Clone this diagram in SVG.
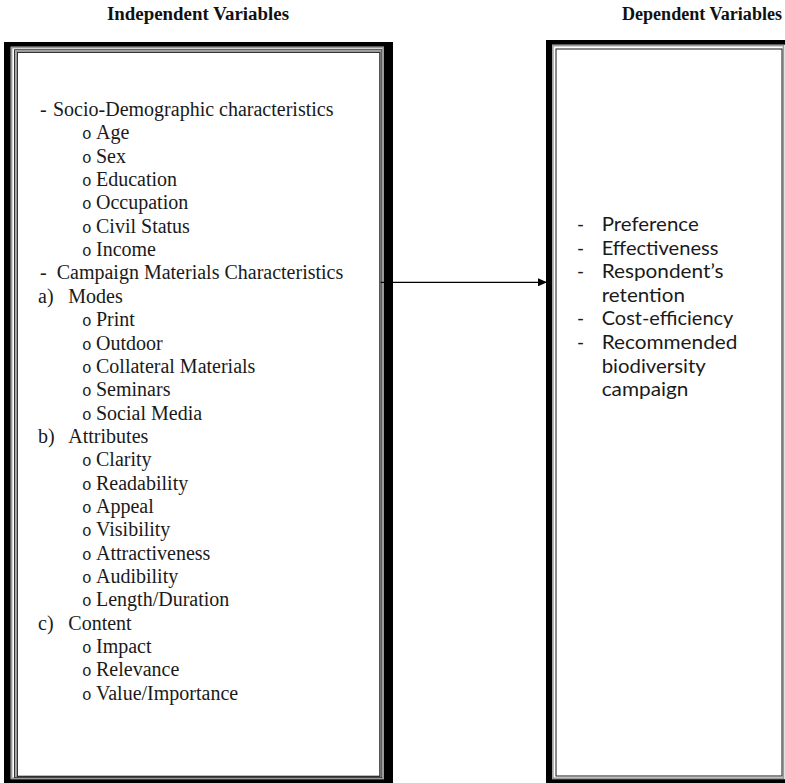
<svg xmlns="http://www.w3.org/2000/svg" width="785" height="783" viewBox="0 0 785 783">
<defs>
<style>
.hdr{font-family:"Liberation Serif","Times New Roman",serif;font-weight:bold;font-size:18px;fill:#111}
.ser{font-family:"Liberation Serif","Times New Roman",serif;font-size:20px;fill:#1a1a1a}
.bul{font-family:"Liberation Mono","Courier New",monospace;font-size:16px;fill:#1a1a1a}
.san{font-family:Lato,"Open Sans","Liberation Sans",sans-serif;font-size:19px;fill:#1a1a1a}
.gray{fill:none;stroke:#9a9a9a;stroke-width:1.6}
.dark{fill:none;stroke:#2a2a2a;stroke-width:1.1}
.conn{stroke:#000;stroke-width:1.3;fill:none}
</style>
<marker id="arrow" viewBox="0 0 9 8" refX="8.5" refY="4" markerWidth="9" markerHeight="8" markerUnits="userSpaceOnUse" orient="auto">
<path d="M0,0 L9,4 L0,8 z" fill="#000"/>
</marker>
</defs>
<rect width="785" height="783" fill="#fff"/>
<g id="headers">
<text class="hdr" x="107" y="20" textLength="182" lengthAdjust="spacingAndGlyphs">Independent Variables</text>
<text class="hdr" x="622" y="20" textLength="160" lengthAdjust="spacingAndGlyphs">Dependent Variables</text>
</g>
<g id="independent">
<rect x="4" y="42" width="389" height="741" fill="#000"/>
<rect x="10.7" y="46.7" width="373.3" height="732.5" fill="#fff"/>
<rect class="gray" x="11.6" y="47.6" width="371.6" height="730.7"/>
<rect class="dark" x="14.6" y="49.8" width="367.1" height="727.6"/>
<rect class="gray" x="16" y="51" width="364.5" height="725.4"/>
<rect class="dark" x="17.4" y="52.4" width="362.4" height="724"/>
<g class="ser">
<text x="40" y="116">-</text><text x="53" y="116">Socio-Demographic characteristics</text>
<text x="96" y="139.35">Age</text>
<text x="96" y="162.7">Sex</text>
<text x="96" y="186.05">Education</text>
<text x="96" y="209.4">Occupation</text>
<text x="96" y="232.75">Civil Status</text>
<text x="96" y="256.1">Income</text>
<text x="40" y="279.45">-</text><text x="56.7" y="279.45">Campaign Materials Characteristics</text>
<text x="38" y="302.8">a)</text><text x="68.3" y="302.8">Modes</text>
<text x="96" y="326.15">Print</text>
<text x="96" y="349.5">Outdoor</text>
<text x="96" y="372.85">Collateral Materials</text>
<text x="96" y="396.2">Seminars</text>
<text x="96" y="419.55">Social Media</text>
<text x="38" y="442.9">b)</text><text x="68.3" y="442.9">Attributes</text>
<text x="96" y="466.25">Clarity</text>
<text x="96" y="489.6">Readability</text>
<text x="96" y="512.95">Appeal</text>
<text x="96" y="536.3">Visibility</text>
<text x="96" y="559.65">Attractiveness</text>
<text x="96" y="583">Audibility</text>
<text x="96" y="606.35">Length/Duration</text>
<text x="38" y="629.7">c)</text><text x="68.3" y="629.7">Content</text>
<text x="96" y="653.05">Impact</text>
<text x="96" y="676.4">Relevance</text>
<text x="96" y="699.75">Value/Importance</text>
</g>
<g class="bul">
<text x="82" y="139.35">o</text><text x="82" y="162.7">o</text><text x="82" y="186.05">o</text><text x="82" y="209.4">o</text><text x="82" y="232.75">o</text><text x="82" y="256.1">o</text>
<text x="82" y="326.15">o</text><text x="82" y="349.5">o</text><text x="82" y="372.85">o</text><text x="82" y="396.2">o</text><text x="82" y="419.55">o</text>
<text x="82" y="466.25">o</text><text x="82" y="489.6">o</text><text x="82" y="512.95">o</text><text x="82" y="536.3">o</text><text x="82" y="559.65">o</text><text x="82" y="583">o</text><text x="82" y="606.35">o</text>
<text x="82" y="653.05">o</text><text x="82" y="676.4">o</text><text x="82" y="699.75">o</text>
</g>
</g>
<g id="dependent">
<rect x="546" y="40" width="250" height="743" fill="#000"/>
<rect x="552" y="44.7" width="240" height="734.5" fill="#fff"/>
<rect class="gray" x="552.9" y="45.6" width="230.6" height="732.6"/>
<rect class="dark" x="556" y="49" width="226" height="727"/>
<g class="san">
<text x="577" y="231">-</text><text x="601.7" y="231" textLength="97" lengthAdjust="spacingAndGlyphs">Preference</text>
<text x="577" y="254.6">-</text><text x="601.7" y="254.6" textLength="116.7" lengthAdjust="spacingAndGlyphs">Effectiveness</text>
<text x="577" y="278.2">-</text><text x="601.7" y="278.2" textLength="121.7" lengthAdjust="spacingAndGlyphs">Respondent’s</text>
<text x="601.7" y="301.8" textLength="83.3" lengthAdjust="spacingAndGlyphs">retention</text>
<text x="577" y="325.4">-</text><text x="601.7" y="325.4" textLength="131.7" lengthAdjust="spacingAndGlyphs">Cost-efficiency</text>
<text x="577" y="349">-</text><text x="601.7" y="349" textLength="135.7" lengthAdjust="spacingAndGlyphs">Recommended</text>
<text x="601.7" y="372.6" textLength="104" lengthAdjust="spacingAndGlyphs">biodiversity</text>
<text x="601.7" y="396.2" textLength="86.7" lengthAdjust="spacingAndGlyphs">campaign</text>
</g>
</g>
<g id="connectors">
<line class="conn" x1="380.7" y1="282.3" x2="546.5" y2="282.3" marker-end="url(#arrow)"/>
</g>
</svg>
